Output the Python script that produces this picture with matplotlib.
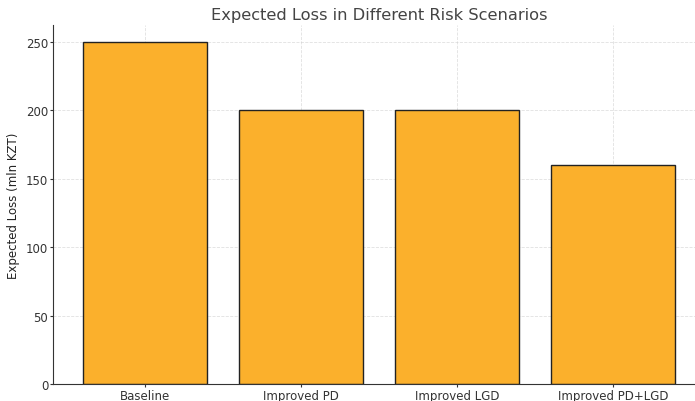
import matplotlib
matplotlib.use("Agg")
import matplotlib.pyplot as plt

# data
scenarios = ["Baseline", "Improved PD", "Improved LGD", "Improved PD+LGD"]
expected_loss = [250, 200, 200, 160]

fig = plt.figure(figsize=(6.95, 4.02), dpi=100)
ax = fig.add_axes([0.0763, 0.0423, 0.938, 0.893])

ax.bar(scenarios, expected_loss, color="#FBB02C", edgecolor="#222222", linewidth=1.0, zorder=2)
ax.grid(True, linestyle="--", linewidth=0.6, color="#cccccc", alpha=0.6, zorder=3)

ax.set_title("Expected Loss in Different Risk Scenarios", fontsize=11.7, color="#444444", pad=4)
ax.set_ylabel("Expected Loss (mln KZT)", fontsize=8.5, color="#222222")
ax.tick_params(axis="both", labelsize=8.5, colors="#333333", length=2, pad=1.5)
ax.set_yticks([0, 50, 100, 150, 200, 250])

for s in ["top", "right"]:
    ax.spines[s].set_visible(False)
for s in ["left", "bottom"]:
    ax.spines[s].set_color("#333333")

fig.savefig("out.png", dpi=100)
